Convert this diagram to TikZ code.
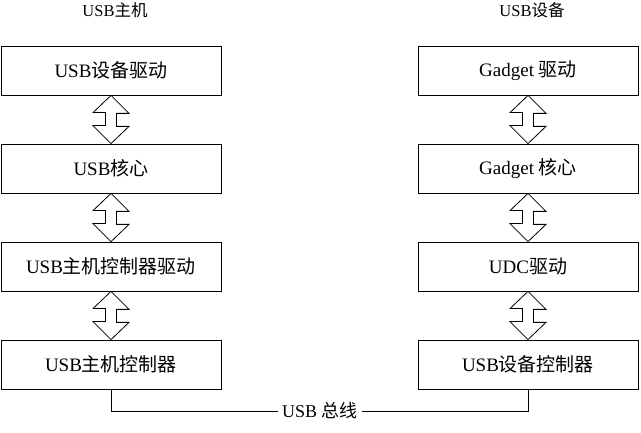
\documentclass[tikz,border=0pt]{standalone}
\usepackage{fontspec}
\setmainfont{Liberation Serif}
\newfontfamily\cjk{Noto Sans CJK SC}
\usetikzlibrary{calc}

\tikzset{
  layer/.style={draw, line width=0.8pt, minimum width=220pt, minimum height=49pt,
    inner sep=0pt, font=\fontsize{19}{21}\selectfont},
  caption/.style={font=\fontsize{16.5}{18}\selectfont},
}

\begin{document}
\begin{tikzpicture}[x=1pt,y=-1pt]

      \useasboundingbox (0,0) rectangle (641,433);

      \node[caption] (hosttitle) at (115,10) {USB{\cjk 主机}};
      \node[caption] (devtitle) at (532,10) {USB{\cjk 设备}};

      \node[layer] (hdrv) at (111,70.5) {USB{\cjk 设备驱动}};
      \node[layer] (hcore) at (111,168.5) {USB{\cjk 核心}};
      \node[layer] (hhcd) at (111,266.5) {USB{\cjk 主机控制器驱动}};
      \node[layer] (hctl) at (111,364.5) {USB{\cjk 主机控制器}};

      \node[layer] (gdrv) at (528,70.5) {Gadget {\cjk 驱动}};
      \node[layer] (gcore) at (528,168.5) {Gadget {\cjk 核心}};
      \node[layer] (udc) at (528,266.5) {UDC{\cjk 驱动}};
      \node[layer] (dctl) at (528,364.5) {USB{\cjk 设备控制器}};

      \foreach \a/\b in {hdrv/hcore, hcore/hhcd, hhcd/hctl, gdrv/gcore, gcore/udc, udc/dctl}
        \draw[line width=0.8pt, line join=miter] (\a.south) -- ++(18,18) -- ++(-12.5,0) -- ++(0,13)
          -- ++(12.5,0) -- (\b.north) -- ++(-18,-18) -- ++(12.5,0) -- ++(0,-13)
          -- ++(-12.5,0) -- cycle;

      \node[font=\fontsize{18}{20}\selectfont, inner xsep=4pt] (bus) at (320,411) {USB {\cjk 总线}};
      \draw[line width=0.8pt] (hctl.south) |- (bus.west);
      \draw[line width=0.8pt] (bus.east) -| (dctl.south);
    \end{tikzpicture}
\end{document}
